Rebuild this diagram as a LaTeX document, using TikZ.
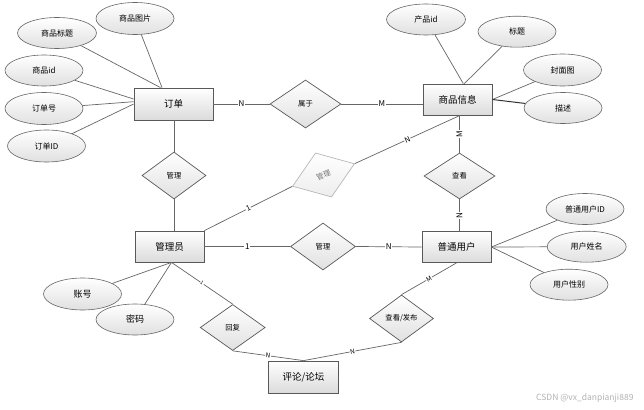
\documentclass[tikz,border=0pt]{standalone}
\usepackage{fontspec}
\setmainfont{Noto Sans CJK SC}
\usetikzlibrary{shapes.geometric,calc}
\begin{document}
\begin{tikzpicture}[x=1pt,y=-1pt,
  ent/.style={draw=black!65, line width=0.8pt, top color=white, bottom color=black!14, minimum width=69pt, minimum height=31pt, inner sep=0pt, font=\fontsize{9.5}{10}\selectfont},
  attr/.style={ellipse, draw=black!60, line width=0.6pt, top color=white, bottom color=black!12, minimum width=78pt, minimum height=31pt, inner sep=0pt, font=\fontsize{8}{9}\selectfont},
  rel/.style={diamond, draw=black!65, line width=0.7pt, top color=white, bottom color=black!12, minimum width=65pt, minimum height=47pt, inner sep=0pt, aspect=1.4, font=\fontsize{7.3}{8}\selectfont},
  con/.style={draw=black!60, line width=0.7pt},
  lab/.style={fill=white, inner sep=0.8pt, font=\fontsize{8}{8}\selectfont},
  slab/.style={fill=white, inner sep=0.5pt, font=\fontsize{6.5}{6.5}\selectfont, sloped},
]
\fill[white] (0,0) rectangle (644,409);
\useasboundingbox (0,0) rectangle (644,409);

% entities
\node[ent, minimum width=79pt, minimum height=32pt] (order) at (173.5,104) {订单};
\node[ent] (goods) at (457.5,99.5) {商品信息};
\node[ent] (admin) at (169.5,246.5) {管理员};
\node[ent] (user) at (456.5,247) {普通用户};
\node[ent, minimum width=70pt, minimum height=32pt] (forum) at (303.5,377) {评论/论坛};

% relations
\node[rel, minimum width=71pt, minimum height=48pt] (belong) at (305.5,104) {属于};
\node[rel, minimum width=64pt] (man1) at (174,175.5) {管理};
\node[rel] (man2) at (323,246.5) {管理};
\node[rel, minimum width=71pt, minimum height=46pt] (view) at (459.5,176) {查看};
\node[rel, minimum width=66pt, rotate=20, draw=black!28, bottom color=black!7, text=black!55] (mang) at (323.5,175) {管理};
\node[rel, minimum width=64pt] (post) at (401.5,318.5) {查看/发布};
\node[rel, minimum height=46pt] (reply) at (232.7,327.5) {回复};

% attributes
\node[attr, minimum height=32pt] (aimg) at (135,18.5) {商品图片};
\node[attr, minimum width=79pt] (atitle) at (57,33) {商品标题};
\node[attr] (agid) at (44,70.5) {商品id};
\node[attr, minimum height=32pt] (aono) at (44,108.5) {订单号};
\node[attr, minimum height=32pt] (aoid) at (46.5,146) {订单ID};
\node[attr, minimum width=79pt] (bpid) at (426,19.5) {产品id};
\node[attr] (btitle) at (517,31.7) {标题};
\node[attr, minimum height=32pt] (bcover) at (562.5,70) {封面图};
\node[attr] (bdesc) at (563,108) {描述};
\node[attr, minimum height=32pt, font=\fontsize{9}{10}\selectfont] (cacc) at (82.5,294) {账号};
\node[attr, font=\fontsize{9}{10}\selectfont] (cpwd) at (135,319.5) {密码};
\node[attr] (duid) at (585,209) {普通用户ID};
\node[attr, minimum width=79pt] (dname) at (586.7,246.7) {用户姓名};
\node[attr] (dsex) at (569,284.7) {用户性别};

% attribute connectors
\draw[con] (aimg) -- ($(order.north)+(-11.5pt,0)$);
\draw[con] (atitle) -- ($(order.north)+(-13pt,0)$);
\draw[con] (agid) -- ($(order.west)+(0,5pt)$);
\draw[con] (aono) -- ($(order.west)+(0,2.3pt)$);
\draw[con] (aoid) -- (order.west);
\draw[con] (bpid) -- ($(goods.north)+(5.8pt,0)$);
\draw[con] (btitle) -- ($(goods.north)+(6.8pt,0)$);
\draw[con] (bcover) -- (goods.east);
\draw[con, draw=black!80, line width=1pt] (bdesc) -- (goods.east);
\draw[con] (cacc) -- ($(admin.south)+(2pt,0)$);
\draw[con] (cpwd) -- ($(admin.south)+(2pt,0)$);
\draw[con] (duid) -- (user.east);
\draw[con] (dname) -- (user.east);
\draw[con] (dsex) -- (user.east);

% relation connectors
\draw[con] (order.east) -- node[lab]{N} (belong.west);
\draw[con] (belong.east) -- node[lab]{M} (belong.east -| goods.west);
\draw[con] (view.north |- goods.south) -- node[lab, rotate=90]{M} (view.north);
\draw[con] (view.south) -- node[lab, rotate=90]{N} (view.south |- user.north);
\draw[con] (man1.north |- order.south) -- (man1.north);
\draw[con] (man1.south) -- (man1.south |- admin.north);
\draw[con] (admin.north east) -- node[slab, font=\fontsize{7.5}{7.5}\selectfont]{1} (mang.west);
\draw[con] (mang.east) -- node[slab, font=\fontsize{7.5}{7.5}\selectfont]{N} ($(goods.south)+(2.5pt,0)$);
\draw[con] (admin.east) -- node[lab]{1} (man2.west);
\draw[con] (man2.east) -- node[lab]{N} (user.west);
\draw[con] (user.south) -- node[slab]{M} (post.north);
\draw[con] (post.south) -- node[slab]{N} (forum.north);
\draw[con] (reply.south) -- node[slab]{N} (forum.north);
\draw[con] ($(admin.south)+(2pt,0)$) -- node[slab, font=\fontsize{5}{5}\selectfont]{1} (reply.north);

% watermark
\node[text=black!30, font=\fontsize{8.5}{9}\selectfont, anchor=east] (wm) at (637,398) {CSDN @vx\_danpianji889};
\end{tikzpicture}
\end{document}
